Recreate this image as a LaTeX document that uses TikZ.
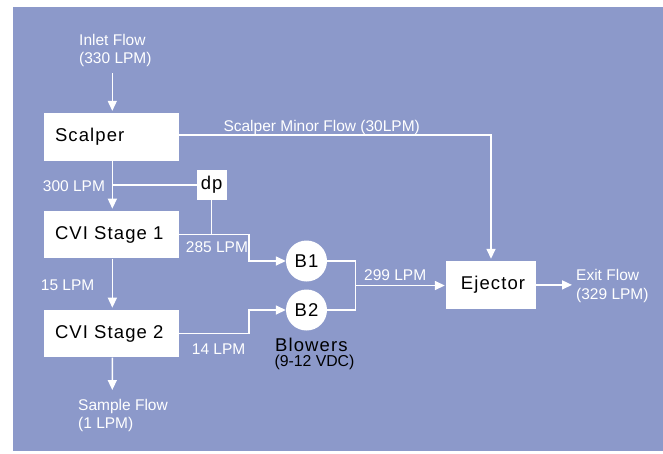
\documentclass[tikz,border=0pt]{standalone}
\usepackage{fontspec}
\setmainfont{Liberation Sans}
\newfontfamily\boxfont[LetterSpace=6]{Liberation Sans}
\usetikzlibrary{arrows.meta}
\definecolor{bg}{RGB}{140,153,202}
\begin{document}
\begin{tikzpicture}[x=1pt,y=-1pt,
  flow/.style={draw=white, line width=1.5pt},
  arr/.style={flow, -{Triangle[length=10pt,width=9pt]}},
  lbl/.style={text=white, font=\fontsize{15.5}{18.4}\selectfont, inner sep=0pt, align=left, anchor=base west},
  blk/.style={fill=white, draw=none, font=\boxfont\fontsize{18.5}{20}\selectfont, inner sep=0pt},
  lbox/.style={blk, minimum height=47.6pt, text width=112.7pt, inner xsep=11pt, inner ysep=0pt, align=left},
  blower/.style={blk, circle, minimum size=41pt}
]
\useasboundingbox (0,0) rectangle (663,453);
\fill[bg] (13,7) rectangle (663,451);

% blocks
\node[lbox] (scalper) at (111.35,136.85) {Scalper};
\node[lbox] (cvi1) at (111.35,234.65) {CVI Stage 1};
\node[lbox] (cvi2) at (111.35,333.65) {CVI Stage 2};
\node[blk, minimum width=90pt, minimum height=47.8pt] (ejector) at (491,284.9) {\hspace*{4pt}Ejector};
\node[blk, minimum width=30pt, minimum height=29.7pt] (dp) at (211.7,184.85) {dp};
\node[blower] (b1) at (306.5,261) {B1};
\node[blower] (b2) at (306.5,310) {B2};

% free ends
\coordinate (inlet) at (112.3,73);
\coordinate (sample) at (112.3,390);
\coordinate (exit) at (572,284.9);
\coordinate (j) at (355.7,285.5);
\coordinate (spine) at ([xshift=1pt]scalper.south);

% connectors
\draw[arr, shorten >=2pt] (inlet) -- (inlet |- scalper.north);
\draw[arr, shorten >=2pt] ([xshift=1pt]scalper.south) -- ([xshift=1pt]cvi1.north);
\draw[arr, shorten >=2pt] ([xshift=1pt]cvi1.south) -- ([xshift=1pt]cvi2.north);
\draw[arr] ([xshift=1pt]cvi2.south) -- (sample);
\draw[flow] (dp.west) -- (dp.west -| spine);
\draw[flow] (dp.south) -- (dp.south |- cvi1.east);
\draw[arr] (cvi1.east) -- ++(70.3,0) |- (b1.west);
\draw[arr] (cvi2.east) -- ++(70.3,0) |- (b2.west);
\draw[flow] (b1.east) -| (j) |- (b2.east);
\draw[arr, shorten >=1pt] (j) -- (j -| ejector.west);
\draw[arr, shorten >=2pt] ([yshift=1.8pt]scalper.east) -| (ejector.north);
\draw[arr] (ejector.east) -- (exit);

% labels (base = baseline of last line)
\node[lbl] (inletlbl) at (79,63.5) {Inlet Flow\\(330 LPM)};
\node[lbl] (minorlbl) at (223.3,131) {Scalper Minor Flow (30LPM)};
\node[lbl] (l300) at (42.7,191.5) {300 LPM};
\node[lbl] (l285) at (185.7,252.7) {285 LPM};
\node[lbl] (l15) at (40.7,290.7) {15 LPM};
\node[lbl] (l14) at (191.7,354) {14 LPM};
\node[lbl] (l299) at (364,280) {299 LPM};
\node[lbl] (exitlbl) at (576,299.3) {Exit Flow\\(329 LPM)};
\node[lbl] (samplelbl) at (78,428.5) {Sample Flow\\(1 LPM)};
\node[inner sep=0pt, anchor=base west, font=\boxfont\fontsize{18.5}{20}\selectfont, text=black] (blowers) at (275,351.7) {Blowers};
\node[inner sep=0pt, anchor=base west, font=\fontsize{15.8}{18}\selectfont, text=black] (volts) at (274.3,366.5) {(9-12 VDC)};
\end{tikzpicture}
\end{document}
